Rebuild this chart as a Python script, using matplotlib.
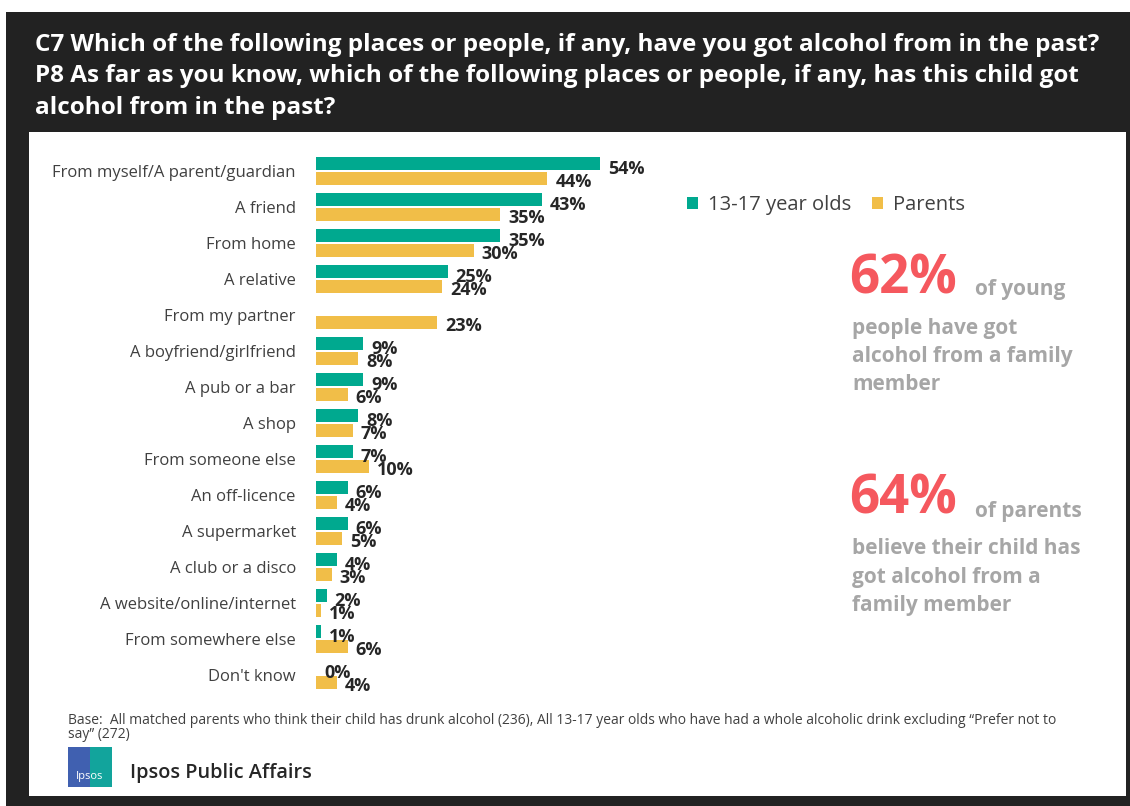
import numpy as np
import matplotlib.pyplot as plt
from matplotlib.patches import Rectangle

plt.rcParams['font.family'] = ['Open Sans', 'DejaVu Sans']

categories = ["From myself/A parent/guardian", "A friend", "From home", "A relative",
              "From my partner", "A boyfriend/girlfriend", "A pub or a bar", "A shop",
              "From someone else", "An off-licence", "A supermarket", "A club or a disco",
              "A website/online/internet", "From somewhere else", "Don't know"]
teens = [54, 43, 35, 25, np.nan, 9, 9, 8, 7, 6, 6, 4, 2, 1, 0]
parents = [44, 35, 30, 24, 23, 8, 6, 7, 10, 4, 5, 3, 1, 6, 4]

TEAL = '#00A98F'
YELLOW = '#F1BE48'
DARK = '#262626'
GREY = '#A6A6A6'
RED = '#F5585E'

W, H = 1130, 806
fig = plt.figure(figsize=(W / 100, H / 100), dpi=100)
fig.patch.set_facecolor('white')

def fx(x):
    return x / W

def fy(y):
    return 1 - y / H

# dark frame + white panel
fig.patches.append(Rectangle((fx(6), 0), fx(1130 - 6), fy(12), transform=fig.transFigure,
                             facecolor='#222222', edgecolor='none', zorder=-10))
fig.patches.append(Rectangle((fx(29), fy(796)), fx(1126 - 29), (796 - 132) / H,
                             transform=fig.transFigure, facecolor='white',
                             edgecolor='none', zorder=-9))

title = ["C7 Which of the following places or people, if any, have you got alcohol from in the past?",
         "P8 As far as you know, which of the following places or people, if any, has this child got",
         "alcohol from in the past?"]
for k, line in enumerate(title):
    fig.text(fx(35), fy(45 + 31.5 * k), line, color='white', fontsize=17.5,
             fontweight='bold', va='center')

# chart axes: x 316..842 px for 0..100 %, rows 36 px apart
ax = fig.add_axes([fx(316), fy(693), 526 / W, 540 / H])
ax.set_facecolor('none')
y = np.arange(len(categories))
ax.barh(y - 0.2, teens, height=0.36, color=TEAL, label='13-17 year olds')
ax.barh(y + 0.2, parents, height=0.36, color=YELLOW, label='Parents')
ax.set_xlim(0, 100)
ax.set_ylim(len(categories) - 0.5, -0.5)
ax.set_yticks(y)
ax.set_yticklabels(categories, fontsize=12, color='#404040')
ax.tick_params(axis='y', length=0, pad=14.5)
ax.set_xticks([])
for s in ax.spines.values():
    s.set_visible(False)

for i in range(len(categories)):
    if not np.isnan(teens[i]):
        ax.annotate(f"{teens[i]:.0f}%", (teens[i], i - 0.2), xytext=(8, -5),
                    textcoords='offset pixels', va='center', ha='left',
                    fontsize=13, fontweight='bold', color=DARK)
    ax.annotate(f"{parents[i]:.0f}%", (parents[i], i + 0.2), xytext=(8, -4),
                textcoords='offset pixels', va='center', ha='left',
                fontsize=13, fontweight='bold', color=DARK)

fig.legend(loc='center left', bbox_to_anchor=(fx(669), fy(205)), ncol=2, frameon=False,
           fontsize=14.5, handlelength=0.55, handleheight=0.55, handletextpad=0.5,
           columnspacing=1.0, labelcolor='#404040')

# callouts
fig.text(fx(849), fy(279), "62%", color=RED, fontsize=38, fontweight='bold', va='center')
fig.text(fx(975), fy(290), "of young", color=GREY, fontsize=15, fontweight='bold', va='center')
for k, line in enumerate(["people have got", "alcohol from a family", "member"]):
    fig.text(fx(852), fy(328 + 28.5 * k), line, color=GREY, fontsize=15,
             fontweight='bold', va='center')

fig.text(fx(849), fy(500), "64%", color=RED, fontsize=38, fontweight='bold', va='center')
fig.text(fx(975), fy(511), "of parents", color=GREY, fontsize=15, fontweight='bold', va='center')
for k, line in enumerate(["believe their child has", "got alcohol from a", "family member"]):
    fig.text(fx(852), fy(549 + 28.5 * k), line, color=GREY, fontsize=15,
             fontweight='bold', va='center')

# footer
fig.text(fx(68), fy(720), "Base:  All matched parents who think their child has drunk alcohol (236), All 13-17 year olds who have had a whole alcoholic drink excluding \u201cPrefer not to",
         fontsize=10, color='#404040', va='center')
fig.text(fx(68), fy(735), "say\u201d (272)", fontsize=10, color='#404040', va='center')

# logo
fig.patches.append(Rectangle((fx(68), fy(787)), fx(22), 40 / H, transform=fig.transFigure,
                             facecolor='#4060B0', edgecolor='none'))
fig.patches.append(Rectangle((fx(90), fy(787)), fx(22), 40 / H, transform=fig.transFigure,
                             facecolor='#12A49C', edgecolor='none'))
fig.text(fx(90), fy(777), "Ipsos", color='white', fontsize=8, ha='center', va='center')
fig.text(fx(130), fy(773), "Ipsos Public Affairs", color=DARK, fontsize=14.3,
         fontweight='semibold', va='center')

fig.savefig('out.png', dpi=100)
